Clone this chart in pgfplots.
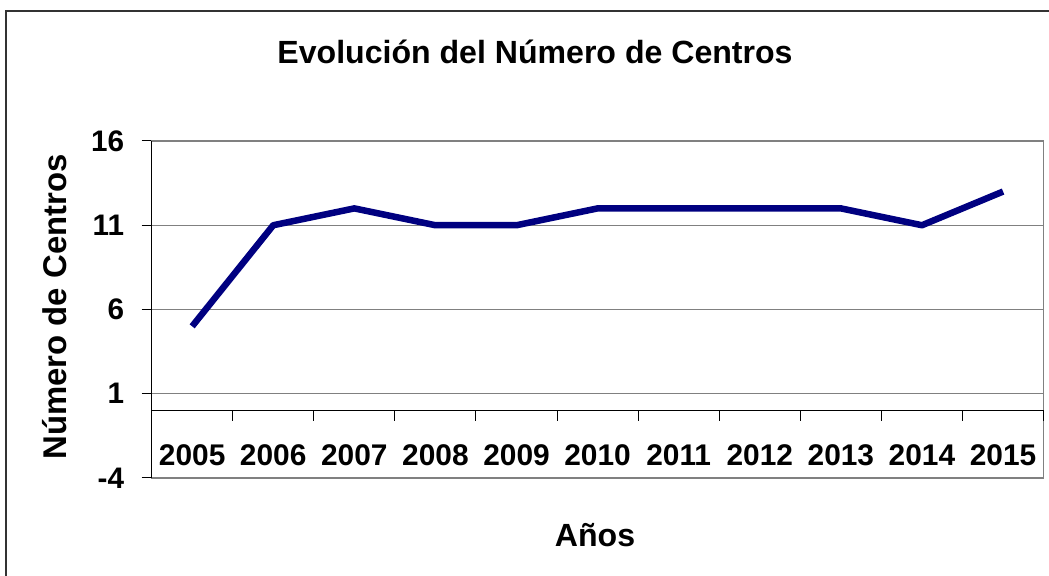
\documentclass[border=0pt]{standalone}
\usepackage{pgfplots}
\pgfplotsset{compat=1.18}
\usepackage{fontspec}
\setmainfont{Liberation Sans}
\definecolor{navyline}{RGB}{0,0,128}
\definecolor{gridgray}{RGB}{128,128,128}
\begin{document}
\begin{tikzpicture}[x=1bp,y=1bp]
\useasboundingbox (0,0) rectangle (1049,576);
\draw[line width=1.2bp, black!80] (6,-20) -- (6,565) -- (1070,565);
\begin{axis}[
  at={(151.6bp,98bp)}, anchor=south west,
  scale only axis, width=892bp, height=337bp,
  xmin=-0.5, xmax=10.5, ymin=-4, ymax=16,
  xtick={0,1,2,3,4,5,6,7,8,9,10},
  xticklabels={2005,2006,2007,2008,2009,2010,2011,2012,2013,2014,2015},
  xtick style={draw=none},
  xticklabel style={anchor=base, yshift=22bp, font=\fontsize{30}{30}\selectfont\bfseries},
  ytick={-4,1,6,11,16}, ytick pos=left,
  yticklabel style={xshift=-14bp, font=\fontsize{29.8}{30}\selectfont\bfseries},
  ytick style={black, line width=1bp},
  tick align=outside, major tick length=10bp,
  ymajorgrids, grid style={gridgray, line width=1bp},
  axis line style={gridgray, line width=1.2bp},
  /pgf/number format/assume math mode=true,
  clip=false,
]
\addplot[navyline, line width=6.5bp, line join=round] coordinates {
(0,5) (1,11) (2,12) (3,11) (4,11) (5,12) (6,12) (7,12) (8,12) (9,11) (10,13)
};
\draw[black, line width=1.2bp] (rel axis cs:0,0) -- (rel axis cs:0,1);
\draw[black, line width=1.2bp] (axis cs:-0.5,0) -- (axis cs:10.5,0);
\pgfplotsinvokeforeach{-0.5,0.5,1.5,2.5,3.5,4.5,5.5,6.5,7.5,8.5,9.5,10.5}{
  \draw[black, line width=1bp] (axis cs:#1,0) -- ([yshift=-10bp]axis cs:#1,0);
}
\end{axis}
\node[font=\fontsize{32.2}{33}\selectfont\bfseries] at (535,524) {Evolución del Número de Centros};
\node[font=\fontsize{32.2}{33}\selectfont\bfseries] at (595,41) {Años};
\node[font=\fontsize{33}{34}\selectfont\bfseries, rotate=90] at (55,269) {Número de Centros};
\end{tikzpicture}
\end{document}
